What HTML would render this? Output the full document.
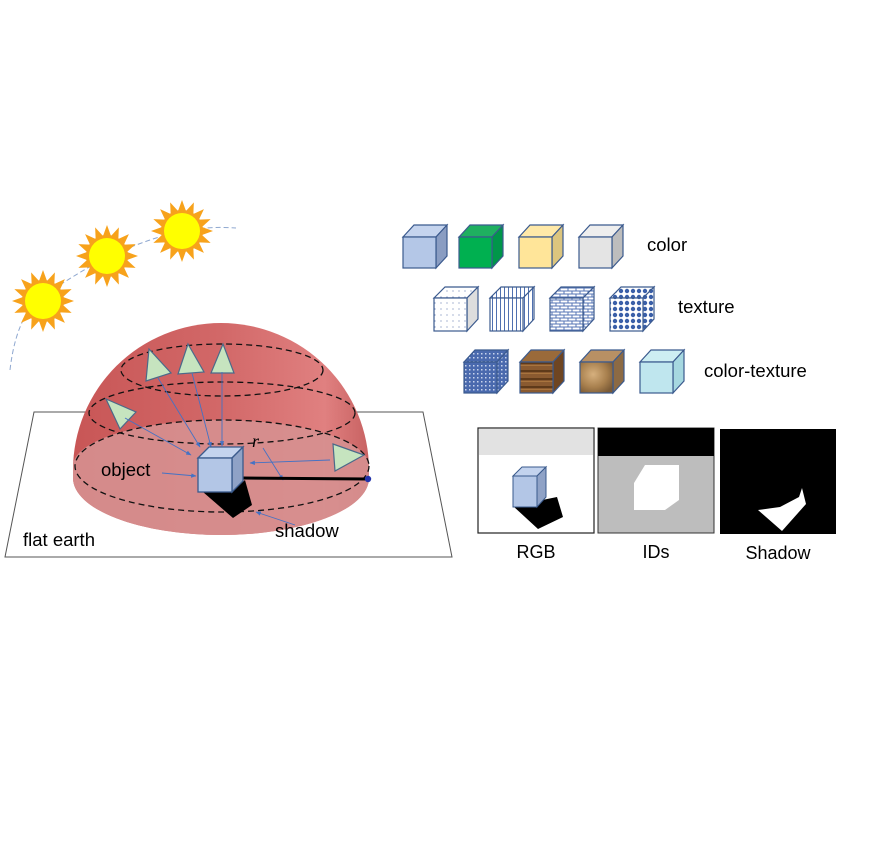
<!DOCTYPE html>
<html><head><meta charset="utf-8"><style>
html,body{margin:0;padding:0;background:#fff;}
svg{display:block;font-family:"Liberation Sans","DejaVu Sans",sans-serif;}
</style></head><body>
<svg width="869" height="868" viewBox="0 0 869 868" xmlns="http://www.w3.org/2000/svg">
<defs>
<pattern id="dots" width="6" height="6" patternUnits="userSpaceOnUse"><rect width="6" height="6" fill="#fff"/><circle cx="3" cy="3" r="0.6" fill="#6f86b8"/></pattern>
<pattern id="vl" width="4" height="4" patternUnits="userSpaceOnUse"><rect width="4" height="4" fill="#fff"/><rect width="1" height="4" fill="#5070b0"/></pattern>
<pattern id="brick" width="8" height="6" patternUnits="userSpaceOnUse"><rect width="8" height="6" fill="#5574b4"/><rect x="0.5" y="0.5" width="7" height="2" fill="#fff"/><rect x="-3.5" y="3.5" width="7" height="2" fill="#fff"/><rect x="4.5" y="3.5" width="7" height="2" fill="#fff"/></pattern>
<pattern id="diam" width="6" height="6" patternUnits="userSpaceOnUse"><rect width="6" height="6" fill="#fff"/><circle cx="3" cy="3" r="2.2" fill="#3a5fa8"/></pattern>
<pattern id="knit" width="4" height="4" patternUnits="userSpaceOnUse"><rect width="4" height="4" fill="#4a6aae"/><rect x="1" y="1" width="1.5" height="1.5" fill="#c8d4ec"/></pattern>
<pattern id="wood" width="33" height="8" patternUnits="userSpaceOnUse"><rect width="33" height="8" fill="#8a5a30"/><rect y="2" width="33" height="2" fill="#5e3a1a"/><rect y="5" width="33" height="1" fill="#a8743e"/></pattern>
<radialGradient id="gold" cx="0.4" cy="0.4" r="0.7"><stop offset="0" stop-color="#d6b07e"/><stop offset="0.6" stop-color="#a8804e"/><stop offset="1" stop-color="#7a5a36"/></radialGradient>
<linearGradient id="domeg" x1="0" y1="0" x2="1" y2="0"><stop offset="0" stop-color="#c85656"/><stop offset="0.5" stop-color="#d26868"/><stop offset="0.85" stop-color="#e08080"/><stop offset="1" stop-color="#c86262"/></linearGradient>
<marker id="ah" viewBox="0 0 10 10" refX="9" refY="5" markerWidth="6" markerHeight="6" orient="auto"><path d="M0,1 L10,5 L0,9 z" fill="#4472c4"/></marker>
<g id="sun">
<g fill="#f7a21b">
<polygon points="0,-31 4,-20 -4,-20"/><polygon points="0,-31 4,-20 -4,-20" transform="rotate(22.5)"/><polygon points="0,-31 4,-20 -4,-20" transform="rotate(45)"/><polygon points="0,-31 4,-20 -4,-20" transform="rotate(67.5)"/><polygon points="0,-31 4,-20 -4,-20" transform="rotate(90)"/><polygon points="0,-31 4,-20 -4,-20" transform="rotate(112.5)"/><polygon points="0,-31 4,-20 -4,-20" transform="rotate(135)"/><polygon points="0,-31 4,-20 -4,-20" transform="rotate(157.5)"/><polygon points="0,-31 4,-20 -4,-20" transform="rotate(180)"/><polygon points="0,-31 4,-20 -4,-20" transform="rotate(202.5)"/><polygon points="0,-31 4,-20 -4,-20" transform="rotate(225)"/><polygon points="0,-31 4,-20 -4,-20" transform="rotate(247.5)"/><polygon points="0,-31 4,-20 -4,-20" transform="rotate(270)"/><polygon points="0,-31 4,-20 -4,-20" transform="rotate(292.5)"/><polygon points="0,-31 4,-20 -4,-20" transform="rotate(315)"/><polygon points="0,-31 4,-20 -4,-20" transform="rotate(337.5)"/>
</g>
<circle r="21" fill="#f7a21b"/><circle r="18" fill="#ffff00"/>
</g>
</defs>

<path d="M10,370 Q18,300 60,285 Q120,245 182,231 Q210,226 236,228" fill="none" stroke="#8fa8d0" stroke-width="1" stroke-dasharray="5,3"/>
<use href="#sun" x="43" y="301"/>
<use href="#sun" x="107" y="256"/>
<use href="#sun" x="182" y="231"/>

<polygon points="34,412 423,412 452,557 5,557" fill="#fff" stroke="#555" stroke-width="1"/>

<path d="M73,470 A148,147 0 0 1 369,470 L369,478 A148,57 0 0 1 73,478 Z" fill="url(#domeg)"/>
<path d="M73,466 A148,46 0 0 1 369,466 L369,478 A148,57 0 0 1 73,478 Z" fill="#d69090" opacity="0.9"/>
<g fill="none" stroke="#111" stroke-width="1.3" stroke-dasharray="6,4">
<ellipse cx="222" cy="370" rx="101" ry="26"/>
<ellipse cx="222" cy="413" rx="133" ry="31"/>
<ellipse cx="222" cy="466" rx="147" ry="46"/>
</g>

<g fill="#c6e4bf" stroke="#4b6a8a" stroke-width="1.2">
<polygon points="149,349 171,373 146,381"/>
<polygon points="188,344 204,372 178,374"/>
<polygon points="223,344 234,373 211,373"/>
<polygon points="106,399 136,412 120,429"/>
<polygon points="333,444 364,455 335,471"/>
</g>
<g stroke="#4472c4" stroke-width="0.9" fill="none" marker-end="url(#ah)">
<line x1="158" y1="378" x2="200" y2="447"/>
<line x1="192" y1="373" x2="211" y2="447"/>
<line x1="222" y1="372" x2="222" y2="446"/>
<line x1="125" y1="418" x2="191" y2="455"/>
<line x1="330" y1="460" x2="250" y2="463"/>
<line x1="162" y1="473" x2="196" y2="476"/>
<line x1="263" y1="448" x2="283" y2="480"/>
<line x1="295" y1="525" x2="256" y2="512"/>
</g>

<line x1="243" y1="478" x2="368" y2="479" stroke="#000" stroke-width="3"/>
<circle cx="368" cy="479" r="3.2" fill="#2233aa"/>
<text x="252" y="447" font-family="Liberation Serif,serif" font-style="italic" font-size="18">r</text>

<polygon points="203,492 232,492 245,480 252,505 233,518" fill="#000"/>
<g stroke="#3a5a8c" stroke-width="1.3">
<polygon points="198,458 209,447 243,447 232,458" fill="#c3d3ee"/>
<polygon points="232,458 243,447 243,481 232,492" fill="#8fa2c6"/>
<rect x="198" y="458" width="34" height="34" fill="#b3c6e6"/>
</g>

<text x="101" y="476" font-size="18.5">object</text>
<text x="275" y="537" font-size="18.5">shadow</text>
<text x="23" y="546" font-size="18.5">flat earth</text>

<g stroke="#3b5a8e" stroke-width="1.2">
<polygon points="403,237 414,225 447,225 436,237" fill="#c5d4ee"/><polygon points="436,237 447,225 447,256 436,268" fill="#8a9dc2"/><rect x="403" y="237" width="33" height="31" fill="#b4c7e7"/>
<polygon points="459,237 470,225 503,225 492,237" fill="#1fb060"/><polygon points="492,237 503,225 503,256 492,268" fill="#00964a"/><rect x="459" y="237" width="33" height="31" fill="#00b050"/>
<polygon points="519,237 530,225 563,225 552,237" fill="#ffe9a8"/><polygon points="552,237 563,225 563,256 552,268" fill="#dcc57e"/><rect x="519" y="237" width="33" height="31" fill="#ffe599"/>
<polygon points="579,237 590,225 623,225 612,237" fill="#eeeeee"/><polygon points="612,237 623,225 623,256 612,268" fill="#bdbdbd"/><rect x="579" y="237" width="33" height="31" fill="#e4e4e4"/>
<polygon points="434,298 445,287 478,287 467,298" fill="url(#dots)"/><polygon points="467,298 478,287 478,319 467,331" fill="#ddd"/><rect x="434" y="298" width="33" height="33" fill="url(#dots)"/>
<polygon points="490,298 501,287 534,287 523,298" fill="url(#vl)"/><polygon points="523,298 534,287 534,319 523,331" fill="url(#vl)"/><rect x="490" y="298" width="33" height="33" fill="url(#vl)"/>
<polygon points="550,298 561,287 594,287 583,298" fill="url(#brick)"/><polygon points="583,298 594,287 594,319 583,331" fill="url(#brick)"/><rect x="550" y="298" width="33" height="33" fill="url(#brick)"/>
<polygon points="610,298 621,287 654,287 643,298" fill="url(#diam)"/><polygon points="643,298 654,287 654,319 643,331" fill="url(#diam)"/><rect x="610" y="298" width="33" height="33" fill="url(#diam)"/>
<polygon points="464,362 475,350 508,350 497,362" fill="url(#knit)"/><polygon points="497,362 508,350 508,381 497,393" fill="url(#knit)"/><rect x="464" y="362" width="33" height="31" fill="url(#knit)"/>
<polygon points="520,362 531,350 564,350 553,362" fill="#9a6a3a"/><polygon points="553,362 564,350 564,381 553,393" fill="#6e4522"/><rect x="520" y="362" width="33" height="31" fill="url(#wood)"/>
<polygon points="580,362 591,350 624,350 613,362" fill="#b89064"/><polygon points="613,362 624,350 624,381 613,393" fill="#8c6a44"/><rect x="580" y="362" width="33" height="31" fill="url(#gold)"/>
<polygon points="640,362 651,350 684,350 673,362" fill="#cdeef2"/><polygon points="673,362 684,350 684,381 673,393" fill="#a6d8e0"/><rect x="640" y="362" width="33" height="31" fill="#bfe6ee"/>
</g>
<text x="647" y="251" font-size="18.5">color</text>
<text x="678" y="313" font-size="18.5">texture</text>
<text x="704" y="377" font-size="18.5">color-texture</text>

<rect x="478" y="428" width="116" height="105" fill="#fff" stroke="#222" stroke-width="1.2"/>
<rect x="479" y="429" width="114" height="26" fill="#e2e2e2"/>
<polygon points="513,506 557,497 563,517 538,529" fill="#000"/>
<g stroke="#3a5a8c" stroke-width="1">
<polygon points="513,476 522,467 546,467 537,476" fill="#c3d3ee"/>
<polygon points="537,476 546,467 546,497 537,507" fill="#8fa2c6"/>
<rect x="513" y="476" width="24" height="31" fill="#b3c6e6"/>
</g>
<rect x="598" y="428" width="116" height="105" fill="#bdbdbd" stroke="#333" stroke-width="1"/>
<rect x="598" y="428" width="116" height="28" fill="#000"/>
<polygon points="634,483 645,465 679,465 679,500 665,510 634,510" fill="#fff"/>
<rect x="720" y="429" width="116" height="105" fill="#000"/>
<polygon points="758,510 780,507 799,497 802,488 806,504 782,531" fill="#fff"/>
<text x="536" y="558" font-size="18" text-anchor="middle">RGB</text>
<text x="656" y="558" font-size="18" text-anchor="middle">IDs</text>
<text x="778" y="559" font-size="18" text-anchor="middle">Shadow</text>
</svg>
</body></html>
